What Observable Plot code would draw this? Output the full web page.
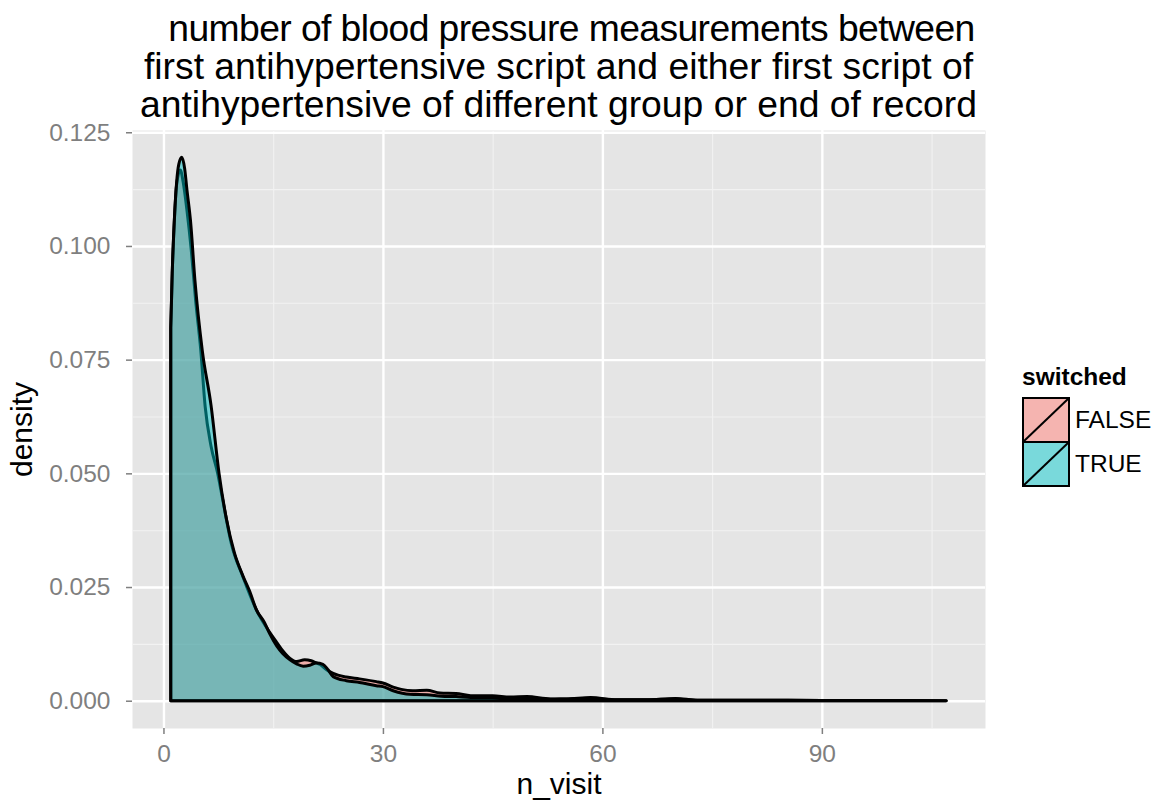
<!DOCTYPE html>
<html>
<head>
<meta charset="utf-8">
<script src="https://cdn.jsdelivr.net/npm/d3@7"></script>
<script src="https://cdn.jsdelivr.net/npm/@observablehq/plot@0.6"></script>
<style>
  body { margin: 0; background: #ffffff; font-family: "Liberation Sans", Arial, Helvetica, sans-serif; }
  #wrap { position: relative; width: 1160px; height: 805px; overflow: hidden; }
  #title { position: relative; width: 1160px; height: 100px; }
  #title div { position: absolute; left: 0; width: 1117px; text-align: center; font-size: 37.3px; color: #000; white-space: pre; line-height: 38px; }
  #legend { position: absolute; left: 1022px; top: 362px; font-size: 24.5px; color: #000; }
  #legend .ttl { font-weight: bold; font-size: 24.5px; height: 36px; line-height: 30px; }
  #legend .row { display: flex; align-items: center; height: 44px; }
  #legend .row svg { display: block; }
  #legend .row span { margin-left: 5px; }
</style>
</head>
<body>
<div id="wrap">
  <div id="title"></div>
  <div id="chart"></div>
  <div id="legend"></div>
</div>
<script>
// ---- data ----
const titleLines = [
  "number of blood pressure measurements between",
  "first antihypertensive script and either first script of",
  "antihypertensive of different group or end of record"
];
const groups = ["FALSE", "TRUE"];
const groupColors = ["#F8766D", "#00BFC4"];
const legendTitle = "switched";
const xLabel = "n_visit";
const yLabel = "density";

const xTicks = [0, 30, 60, 90];
const xMinorTicks = [15, 45, 75, 105];
const yTicks = [0, 0.025, 0.05, 0.075, 0.1, 0.125];
const yMinorTicks = [0.0125, 0.0375, 0.0625, 0.0875, 0.1125];

// switched = FALSE
const falseX = [1, 1.2, 1.5, 1.8, 2.3, 2.7, 3.2, 3.8, 4.4, 5.1, 5.7, 6.5, 7.4, 8.1, 9.27, 10.9, 12.7, 14.5, 15.5, 16.3, 17.3, 18.2, 19.3, 20.2, 20.9, 21.4, 22.3, 23.2, 25, 26.8, 29.1, 30, 31.4, 32.5, 34.1, 36, 37.8, 40, 42, 45, 47.4, 49.7, 52.9, 55, 58.4, 62, 66, 70, 73, 80, 90, 100, 107];
const falseY = [0.082, 0.094, 0.106, 0.1135, 0.1167, 0.114, 0.108, 0.0991, 0.088, 0.0771, 0.0647, 0.056, 0.0501, 0.0442, 0.0346, 0.0271, 0.02, 0.0151, 0.0128, 0.011, 0.0093, 0.0086, 0.009, 0.0088, 0.0083, 0.008, 0.0068, 0.006, 0.0052, 0.0048, 0.0042, 0.0039, 0.003, 0.0025, 0.0022, 0.0023, 0.0017, 0.0016, 0.0011, 0.0011, 0.0008, 0.0009, 0.0004, 0.0004, 0.0007, 0.0002, 0.0002, 0.0005, 0.0001, 0.0001, 0.00005, 0.00003, 0];

// switched = TRUE
const trueX = [1, 1.2, 1.5, 1.8, 2.1, 2.5, 2.9, 3.2, 3.7, 4.3, 5.3, 6.5, 7.6, 8.6, 9.7, 10.9, 11.8, 12.7, 13.8, 14.5, 15.5, 16.3, 17.3, 18.2, 19.1, 20, 20.9, 21.8, 22.5, 23.2, 25, 26.8, 29.1, 30, 31.4, 33.7, 36, 38, 40, 42, 45, 48, 50, 53, 55, 58.5, 62, 66, 70, 73, 80, 90, 100, 107];
const trueY = [0.082, 0.094, 0.106, 0.114, 0.118, 0.1195, 0.117, 0.1125, 0.1055, 0.0925, 0.0771, 0.065, 0.05, 0.04, 0.0325, 0.0273, 0.024, 0.02, 0.0172, 0.0148, 0.012, 0.0104, 0.009, 0.0081, 0.0076, 0.0078, 0.0083, 0.008, 0.0068, 0.0053, 0.0044, 0.004, 0.0033, 0.0031, 0.0022, 0.0014, 0.0013, 0.001, 0.0009, 0.0007, 0.0007, 0.0005, 0.0006, 0.0003, 0.0004, 0.0005, 0.0002, 0.0002, 0.0004, 0.0001, 0.0001, 0.00005, 0.00003, 0];

// ---- build ----
const FONT = "'Liberation Sans', Arial, Helvetica, sans-serif";
const dFalse = falseX.map((x, i) => ({n_visit: x, density: falseY[i], switched: groups[0]}));
const dTrue = trueX.map((x, i) => ({n_visit: x, density: trueY[i], switched: groups[1]}));

const titleEl = document.getElementById("title");
const titleLineStyle = [
  {left: 13, spacing: -0.6},
  {left: 0, spacing: 0},
  {left: 0, spacing: 0}
];
titleLines.forEach((t, i) => {
  const d = document.createElement("div");
  d.textContent = t;
  d.style.top = (9 + i * 38) + "px";
  d.style.left = titleLineStyle[i].left + "px";
  d.style.letterSpacing = titleLineStyle[i].spacing + "px";
  titleEl.appendChild(d);
});

const areaOpts = {
  x: "n_visit", y: "density", fill: "switched", fillOpacity: 0.5,
  stroke: "black", strokeWidth: 3, strokeLinejoin: "round", curve: "monotone-x"
};

const chart = Plot.plot({
  width: 1160,
  height: 705,
  marginTop: 30,
  marginBottom: 77,
  marginLeft: 132,
  marginRight: 175,
  style: {fontFamily: FONT, background: "white", overflow: "visible"},
  x: {domain: [-4.3, 112.3]},
  y: {domain: [-0.006, 0.1255]},
  color: {domain: groups, range: groupColors},
  marks: [
    Plot.frame({fill: "#E5E5E5", stroke: "none"}),
    Plot.ruleX(xMinorTicks, {stroke: "#F2F2F2", strokeWidth: 1.1}),
    Plot.ruleY(yMinorTicks, {stroke: "#F2F2F2", strokeWidth: 1.1}),
    Plot.ruleX(xTicks, {stroke: "#FFFFFF", strokeWidth: 2.4}),
    Plot.ruleY(yTicks, {stroke: "#FFFFFF", strokeWidth: 2.4}),
    Plot.areaY(dFalse, areaOpts),
    Plot.areaY(dTrue, areaOpts),
    Plot.axisX(xTicks, {tickSize: 6, tickPadding: 10, color: "#7F7F7F", strokeWidth: 1.5, fontSize: 24.5, label: null}),
    Plot.axisY(yTicks, {tickSize: 6, tickPadding: 16, color: "#7F7F7F", strokeWidth: 1.5, fontSize: 24.5, tickFormat: d3.format(".3f"), label: null}),
    Plot.text([xLabel], {frameAnchor: "bottom", dy: 56, text: d => d, fontSize: 30, fill: "black", textAnchor: "middle", lineAnchor: "middle"}),
    Plot.text([yLabel], {frameAnchor: "left", dx: -110, rotate: -90, text: d => d, fontSize: 30, fill: "black", textAnchor: "middle", lineAnchor: "middle"})
  ]
});
document.getElementById("chart").appendChild(chart);

// legend
const leg = document.getElementById("legend");
const lt = document.createElement("div");
lt.className = "ttl";
lt.textContent = legendTitle;
leg.appendChild(lt);
groups.forEach((g, i) => {
  const row = document.createElement("div");
  row.className = "row";
  const ns = "http://www.w3.org/2000/svg";
  const s = document.createElementNS(ns, "svg");
  s.setAttribute("width", 48); s.setAttribute("height", 46);
  s.style.marginTop = "-1px";
  const bg = document.createElementNS(ns, "rect");
  bg.setAttribute("x", 1); bg.setAttribute("y", 1); bg.setAttribute("width", 46); bg.setAttribute("height", 44);
  bg.setAttribute("fill", "#F2F2F2");
  s.appendChild(bg);
  const r = document.createElementNS(ns, "rect");
  r.setAttribute("x", 1); r.setAttribute("y", 1); r.setAttribute("width", 46); r.setAttribute("height", 44);
  r.setAttribute("fill", groupColors[i]); r.setAttribute("fill-opacity", 0.5);
  r.setAttribute("stroke", "black"); r.setAttribute("stroke-width", 2);
  s.appendChild(r);
  const l = document.createElementNS(ns, "line");
  l.setAttribute("x1", 1); l.setAttribute("y1", 45); l.setAttribute("x2", 47); l.setAttribute("y2", 1);
  l.setAttribute("stroke", "black"); l.setAttribute("stroke-width", 2);
  s.appendChild(l);
  row.appendChild(s);
  const sp = document.createElement("span");
  sp.textContent = g;
  row.appendChild(sp);
  leg.appendChild(row);
});
</script>
</body>
</html>
